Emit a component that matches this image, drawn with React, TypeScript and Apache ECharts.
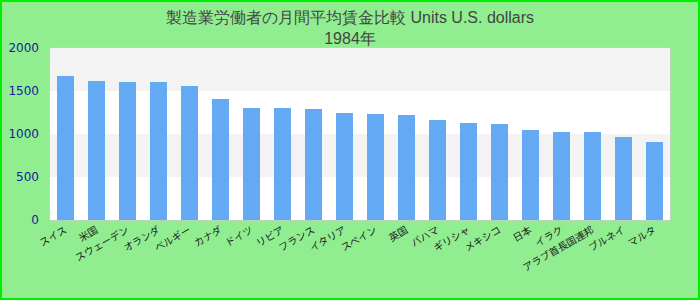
import React, { useEffect, useRef } from "react";
import * as echarts from "echarts";

const titleMain = "製造業労働者の月間平均賃金比較 Units U.S. dollars";
const titleSub = "1984年";

const categories = [
  "スイス",
  "米国",
  "スウェーデン",
  "オランダ",
  "ベルギー",
  "カナダ",
  "ドイツ",
  "リビア",
  "フランス",
  "イタリア",
  "スペイン",
  "英国",
  "バハマ",
  "ギリシャ",
  "メキシコ",
  "日本",
  "イラク",
  "アラブ首長国連邦",
  "ブルネイ",
  "マルタ",
];

const values = [
  1674, 1616, 1605, 1605, 1558, 1407, 1302, 1303, 1291, 1244,
  1233, 1221, 1163, 1128, 1116, 1047, 1023, 1023, 965, 907,
];

const yTicks = { min: 0, max: 2000, interval: 500 };

export default function App() {
  const ref = useRef<HTMLDivElement>(null);

  useEffect(() => {
    if (!ref.current) return;
    const chart = echarts.init(ref.current, undefined, { renderer: "svg" });
    chart.setOption({
      animation: false,
      backgroundColor: "#90ee90",
      title: {
        text: titleMain + "\n" + titleSub,
        left: "center",
        top: 2,
        textStyle: {
          fontFamily: "Liberation Sans, Arial, sans-serif",
          fontSize: 16,
          fontWeight: "normal",
          color: "#444444",
          lineHeight: 21,
        },
      },
      graphic: [
        {
          type: "rect",
          shape: { x: 1, y: 1, width: 698, height: 298 },
          style: { fill: "none", stroke: "#00ee00", lineWidth: 2 },
          silent: true,
          z: 100,
        },
      ],
      grid: {
        left: 50,
        right: 30,
        top: 48,
        bottom: 80,
        show: true,
        backgroundColor: "#ffffff",
        borderColor: "#cccccc",
        borderWidth: 1.5,
      },
      xAxis: {
        type: "category",
        data: categories,
        axisLine: { show: false },
        axisTick: { show: false },
        axisLabel: {
          interval: 0,
          rotate: 30,
          margin: 8,
          fontSize: 10,
          color: "#222222",
          fontFamily: "Noto Sans CJK JP, sans-serif",
        },
      },
      yAxis: {
        type: "value",
        min: yTicks.min,
        max: yTicks.max,
        interval: yTicks.interval,
        axisLine: { show: false },
        axisTick: { show: false },
        splitLine: { show: false },
        splitArea: {
          show: true,
          areaStyle: { color: ["#ffffff", "#f3f3f3"] },
        },
        axisLabel: {
          margin: 11,
          fontSize: 12,
          color: "#1a1a9a",
          fontFamily: "DejaVu Sans, sans-serif",
          formatter: (v: number) => String(v),
        },
      },
      series: [
        {
          type: "bar",
          data: values,
          barWidth: 17,
          itemStyle: { color: "#63a9f4" },
        },
      ],
    });
    return () => chart.dispose();
  }, []);

  return (
    <div
      ref={ref}
      style={{ position: "fixed", left: 0, top: 0, width: 700, height: 300 }}
    />
  );
}
